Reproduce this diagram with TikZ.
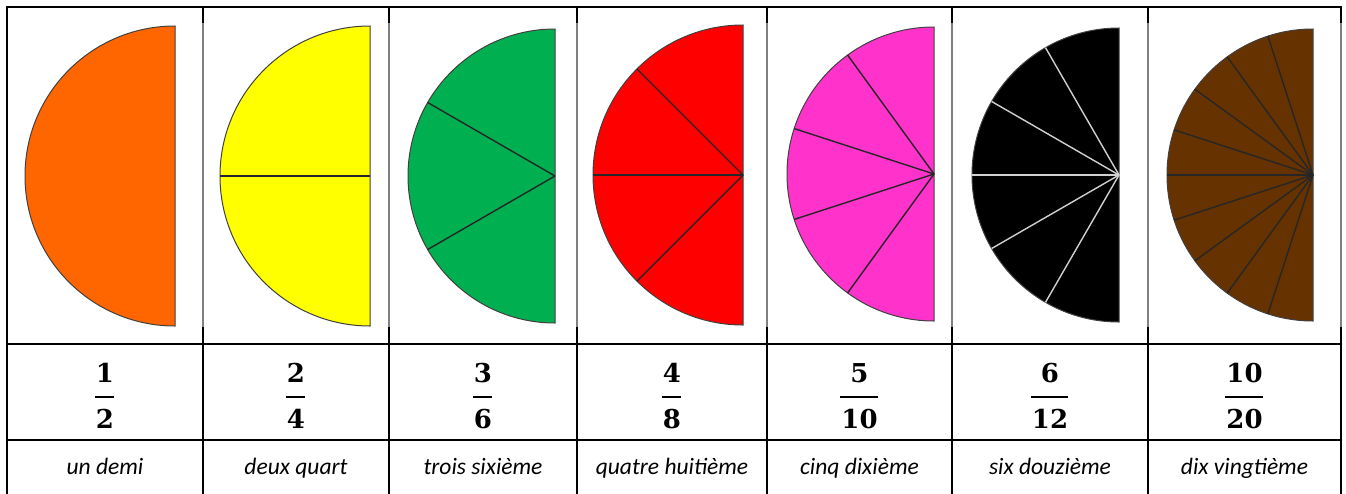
\documentclass[tikz,border=0pt]{standalone}
\usepackage{fontspec}
\setmainfont{Carlito}
\newfontfamily\fracfont{DejaVu Serif}
\definecolor{cOrange}{HTML}{FF6600}
\definecolor{cYellow}{HTML}{FFFF00}
\definecolor{cGreen}{HTML}{00B050}
\definecolor{cRed}{HTML}{FF0000}
\definecolor{cPink}{HTML}{FF33CC}
\definecolor{cBlack}{HTML}{000000}
\definecolor{cBrown}{HTML}{663300}
\definecolor{edge}{HTML}{404040}
\definecolor{lightsep}{HTML}{D0D0D0}
\definecolor{framegray}{HTML}{808080}
\begin{document}
\begin{tikzpicture}[x=1pt,y=-1pt,
  grid/.style={line width=2.2pt,black},
  thin grid/.style={line width=1.2pt,framegray},
  half/.style={draw=edge,line width=1pt},
  sep/.style={line width=1.4pt,black!85},
  wsep/.style={line width=1.4pt,lightsep},
  num/.style={font=\fracfont\bfseries\fontsize{26}{26}\selectfont,inner sep=0pt,anchor=base},
  lab/.style={font=\itshape\fontsize{23.5}{25}\selectfont,inner sep=0pt,anchor=base}]
\useasboundingbox (0,0) rectangle (1346,493);
% grid
\draw[grid] (7,7) -- (1341,7);
\draw[grid] (7,344) -- (1341,344);
\draw[grid] (7,440) -- (1341,440);
\draw[grid] (7,6) -- (7,500);
\foreach \x in {203,389,577,767,952,1148,1341}{
  \draw[grid] (\x,6) -- (\x,23);
  \draw[thin grid] (\x,23) -- (\x,327);
  \draw[grid] (\x,327) -- (\x,500);
}
% semicircles
\coordinate (c1) at (175,176);
\coordinate (c2) at (370,176);
\coordinate (c3) at (555,176);
\coordinate (c4) at (743,175);
\coordinate (c5) at (934,174);
\coordinate (c6) at (1119,175);
\coordinate (c7) at (1313,175);
\fill[cOrange,half] (c1) ++(90:150) arc[start angle=90,end angle=270,radius=150] -- cycle;
\fill[cYellow,half] (c2) ++(90:150) arc[start angle=90,end angle=270,radius=150] -- cycle;
\draw[sep] (c2) -- ++(180:150);
\fill[cGreen,half] (c3) ++(90:147) arc[start angle=90,end angle=270,radius=147] -- cycle;
\foreach \a in {150,210} \draw[sep] (c3) -- ++(\a:147);
\fill[cRed,half] (c4) ++(90:150) arc[start angle=90,end angle=270,radius=150] -- cycle;
\foreach \a in {135,180,225} \draw[sep] (c4) -- ++(\a:150);
\fill[cPink,half] (c5) ++(90:147) arc[start angle=90,end angle=270,radius=147] -- cycle;
\foreach \a in {126,162,198,234} \draw[sep] (c5) -- ++(\a:147);
\fill[cBlack,half] (c6) ++(90:147) arc[start angle=90,end angle=270,radius=147] -- cycle;
\foreach \a in {120,150,180,210,240} \draw[wsep] (c6) -- ++(\a:147);
\fill[cBrown,half] (c7) ++(90:146) arc[start angle=90,end angle=270,radius=146] -- cycle;
\foreach \a in {108,126,144,162,180,198,216,234,252} \draw[sep] (c7) -- ++(\a:146);
% fractions
\foreach \i/\x/\n/\d in {1/105/1/2,2/296/2/4,3/483/3/6,4/672/4/8,5/859.5/5/10,6/1050/6/12,7/1244.5/10/20}{
  \node[num] (n\i) at (\x,382.5) {\n};
  \node[num] (d\i) at (\x,428) {\d};
  \draw[line width=2pt] (d\i.west |- 0,397) ++(-1,0) coordinate (bl\i) -- (d\i.east |- 0,397) ++(1,0) coordinate (br\i);
}
% labels
\node[lab] (l1) at (105,474) {un demi};
\node[lab] (l2) at (296,474) {deux quart};
\node[lab] (l3) at (483,474) {trois sixième};
\node[lab] (l4) at (672,474) {quatre huitième};
\node[lab] (l5) at (859.5,474) {cinq dixième};
\node[lab] (l6) at (1050,474) {six douzième};
\node[lab] (l7) at (1244.5,474) {dix vingtième};
\end{tikzpicture}
\end{document}
